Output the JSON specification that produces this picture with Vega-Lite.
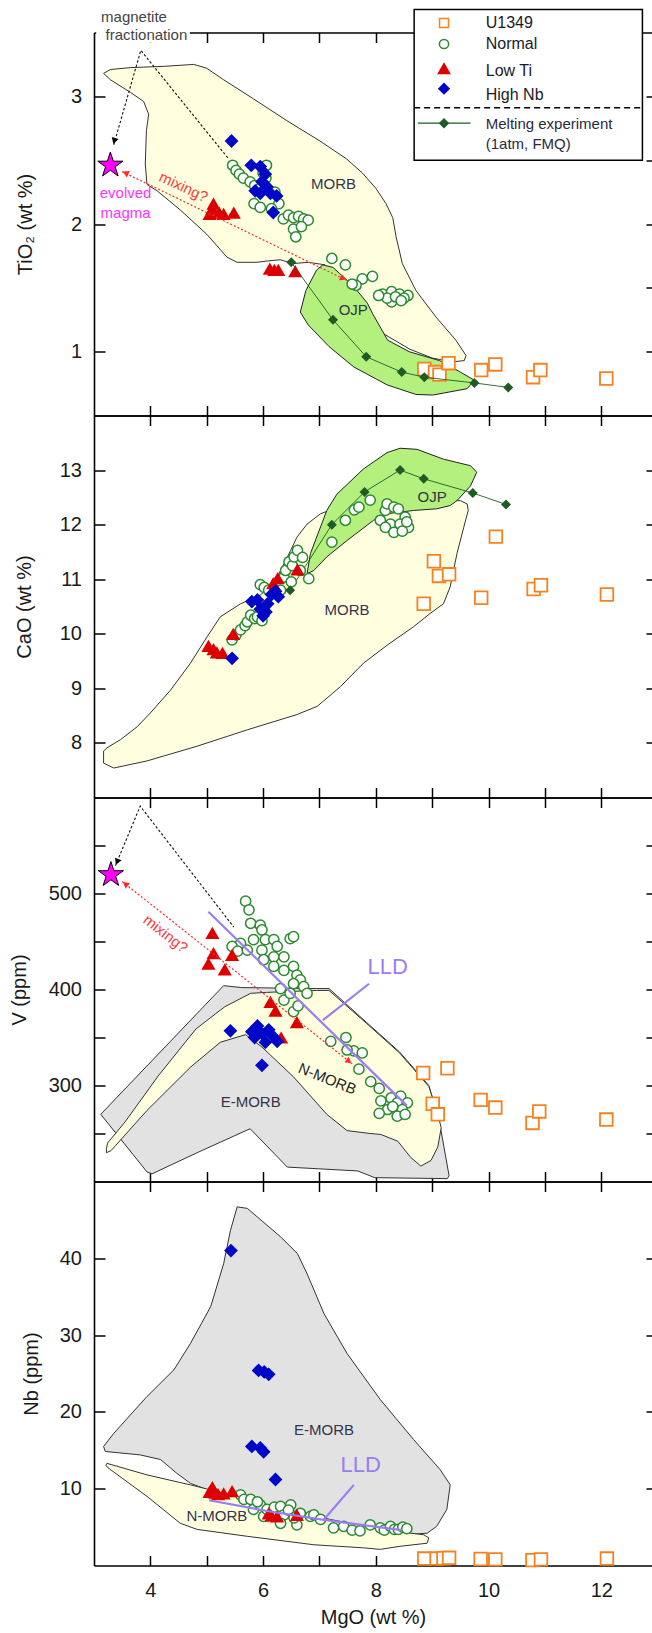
{
"$schema": "https://vega.github.io/schema/vega-lite/v6.json",
"padding": {"left": 9, "top": 8.5, "right": 0, "bottom": 0},
"bounds": "flush",
"spacing": 0,
"config": {
  "view": {"stroke": null},
  "axis": {"grid": false, "domainColor": "#000", "domainWidth": 1.6, "tickColor": "#000", "tickWidth": 1.5, "labelFont": "Liberation Sans", "labelFontSize": 20, "labelColor": "#1a1a1a", "titleFont": "Liberation Sans", "titleFontSize": 20, "titleFontWeight": "normal", "titleColor": "#1a1a1a"},
  "text": {"font": "Liberation Sans"},
  "point": {"opacity": 1}
},
"datasets": {
  "poly": [
    {"s":"m1","i":0,"x":3.17,"y":3.18},{"s":"m1","i":1,"x":3.29,"y":3.21},{"s":"m1","i":2,"x":3.65,"y":3.225},{"s":"m1","i":3,"x":4.24,"y":3.235},{"s":"m1","i":4,"x":4.77,"y":3.25},{"s":"m1","i":5,"x":5.0,"y":3.22},{"s":"m1","i":6,"x":5.3,"y":3.13},{"s":"m1","i":7,"x":5.83,"y":2.98},{"s":"m1","i":8,"x":6.42,"y":2.81},{"s":"m1","i":9,"x":7.01,"y":2.65},{"s":"m1","i":10,"x":7.48,"y":2.51},{"s":"m1","i":11,"x":7.76,"y":2.4},{"s":"m1","i":12,"x":8.0,"y":2.28},{"s":"m1","i":13,"x":8.18,"y":2.16},{"s":"m1","i":14,"x":8.3,"y":2.05},{"s":"m1","i":15,"x":8.36,"y":1.9},{"s":"m1","i":16,"x":8.47,"y":1.69},{"s":"m1","i":17,"x":8.71,"y":1.48},{"s":"m1","i":18,"x":9.07,"y":1.27},{"s":"m1","i":19,"x":9.42,"y":1.09},{"s":"m1","i":20,"x":9.6,"y":0.97},{"s":"m1","i":21,"x":9.57,"y":0.93},{"s":"m1","i":22,"x":9.36,"y":0.92},{"s":"m1","i":23,"x":9.0,"y":0.95},{"s":"m1","i":24,"x":8.6,"y":1.02},{"s":"m1","i":25,"x":8.1,"y":1.15},{"s":"m1","i":26,"x":7.6,"y":1.42},{"s":"m1","i":27,"x":7.1,"y":1.68},{"s":"m1","i":28,"x":6.8,"y":1.7},{"s":"m1","i":29,"x":6.54,"y":1.69},{"s":"m1","i":30,"x":6.3,"y":1.72},{"s":"m1","i":31,"x":6.07,"y":1.71},{"s":"m1","i":32,"x":5.89,"y":1.7},{"s":"m1","i":33,"x":5.54,"y":1.7},{"s":"m1","i":34,"x":5.36,"y":1.74},{"s":"m1","i":35,"x":5.0,"y":1.92},{"s":"m1","i":36,"x":4.53,"y":2.11},{"s":"m1","i":37,"x":4.12,"y":2.26},{"s":"m1","i":38,"x":3.94,"y":2.31},{"s":"m1","i":39,"x":3.91,"y":2.47},{"s":"m1","i":40,"x":3.93,"y":2.73},{"s":"m1","i":41,"x":3.97,"y":2.86},{"s":"m1","i":42,"x":3.88,"y":2.96},{"s":"m1","i":43,"x":3.65,"y":3.03},{"s":"m1","i":44,"x":3.29,"y":3.13},{"s":"m1","i":45,"x":3.17,"y":3.18},
    {"s":"o1","i":0,"x":7.06,"y":1.68},{"s":"o1","i":1,"x":7.24,"y":1.66},{"s":"o1","i":2,"x":7.61,"y":1.51},{"s":"o1","i":3,"x":7.85,"y":1.38},{"s":"o1","i":4,"x":7.94,"y":1.3},{"s":"o1","i":5,"x":8.21,"y":1.09},{"s":"o1","i":6,"x":8.59,"y":1.0},{"s":"o1","i":7,"x":9.13,"y":0.93},{"s":"o1","i":8,"x":9.5,"y":0.84},{"s":"o1","i":9,"x":9.75,"y":0.776},{"s":"o1","i":10,"x":9.62,"y":0.71},{"s":"o1","i":11,"x":9.01,"y":0.66},{"s":"o1","i":12,"x":8.71,"y":0.665},{"s":"o1","i":13,"x":8.2,"y":0.74},{"s":"o1","i":14,"x":7.61,"y":0.88},{"s":"o1","i":15,"x":7.17,"y":1.04},{"s":"o1","i":16,"x":6.8,"y":1.21},{"s":"o1","i":17,"x":6.66,"y":1.31},{"s":"o1","i":18,"x":6.76,"y":1.48},{"s":"o1","i":19,"x":6.95,"y":1.64},{"s":"o1","i":20,"x":7.06,"y":1.68},
    {"s":"m2","i":0,"x":3.17,"y":7.85},{"s":"m2","i":1,"x":3.23,"y":7.91},{"s":"m2","i":2,"x":3.47,"y":8.06},{"s":"m2","i":3,"x":3.77,"y":8.3},{"s":"m2","i":4,"x":4.0,"y":8.55},{"s":"m2","i":5,"x":4.36,"y":8.97},{"s":"m2","i":6,"x":4.71,"y":9.46},{"s":"m2","i":7,"x":5.01,"y":9.95},{"s":"m2","i":8,"x":5.24,"y":10.31},{"s":"m2","i":9,"x":5.6,"y":10.55},{"s":"m2","i":10,"x":5.95,"y":10.71},{"s":"m2","i":11,"x":6.19,"y":10.92},{"s":"m2","i":12,"x":6.37,"y":11.28},{"s":"m2","i":13,"x":6.49,"y":11.53},{"s":"m2","i":14,"x":6.6,"y":11.77},{"s":"m2","i":15,"x":6.78,"y":12.01},{"s":"m2","i":16,"x":7.02,"y":12.2},{"s":"m2","i":17,"x":7.4,"y":12.35},{"s":"m2","i":18,"x":8.0,"y":12.45},{"s":"m2","i":19,"x":8.8,"y":12.45},{"s":"m2","i":20,"x":9.5,"y":12.44},{"s":"m2","i":21,"x":9.62,"y":12.38},{"s":"m2","i":22,"x":9.64,"y":12.26},{"s":"m2","i":23,"x":9.56,"y":11.95},{"s":"m2","i":24,"x":9.44,"y":11.47},{"s":"m2","i":25,"x":9.32,"y":10.86},{"s":"m2","i":26,"x":9.2,"y":10.55},{"s":"m2","i":27,"x":8.96,"y":10.37},{"s":"m2","i":28,"x":8.67,"y":10.13},{"s":"m2","i":29,"x":8.2,"y":9.79},{"s":"m2","i":30,"x":7.78,"y":9.46},{"s":"m2","i":31,"x":7.37,"y":9.03},{"s":"m2","i":32,"x":6.96,"y":8.67},{"s":"m2","i":33,"x":6.6,"y":8.52},{"s":"m2","i":34,"x":5.72,"y":8.24},{"s":"m2","i":35,"x":4.83,"y":7.94},{"s":"m2","i":36,"x":3.94,"y":7.67},{"s":"m2","i":37,"x":3.35,"y":7.54},{"s":"m2","i":38,"x":3.17,"y":7.63},{"s":"m2","i":39,"x":3.17,"y":7.85},
    {"s":"o2","i":0,"x":6.78,"y":11.1},{"s":"o2","i":1,"x":6.84,"y":11.47},{"s":"o2","i":2,"x":7.13,"y":12.26},{"s":"o2","i":3,"x":7.31,"y":12.56},{"s":"o2","i":4,"x":7.78,"y":13.02},{"s":"o2","i":5,"x":8.2,"y":13.32},{"s":"o2","i":6,"x":8.43,"y":13.4},{"s":"o2","i":7,"x":8.73,"y":13.38},{"s":"o2","i":8,"x":9.2,"y":13.2},{"s":"o2","i":9,"x":9.68,"y":13.08},{"s":"o2","i":10,"x":9.79,"y":12.96},{"s":"o2","i":11,"x":9.68,"y":12.71},{"s":"o2","i":12,"x":9.44,"y":12.44},{"s":"o2","i":13,"x":9.32,"y":12.35},{"s":"o2","i":14,"x":9.08,"y":12.29},{"s":"o2","i":15,"x":8.67,"y":12.26},{"s":"o2","i":16,"x":8.2,"y":12.2},{"s":"o2","i":17,"x":7.96,"y":12.08},{"s":"o2","i":18,"x":7.49,"y":11.71},{"s":"o2","i":19,"x":7.13,"y":11.41},{"s":"o2","i":20,"x":6.9,"y":11.16},{"s":"o2","i":21,"x":6.78,"y":11.1},
    {"s":"g3","i":0,"x":3.12,"y":270},{"s":"g3","i":1,"x":5.3,"y":404},{"s":"g3","i":2,"x":5.62,"y":402},{"s":"g3","i":3,"x":6.95,"y":401},{"s":"g3","i":4,"x":7.17,"y":401},{"s":"g3","i":5,"x":7.83,"y":366},{"s":"g3","i":6,"x":8.42,"y":335},{"s":"g3","i":7,"x":8.94,"y":300},{"s":"g3","i":8,"x":9.12,"y":265},{"s":"g3","i":9,"x":9.3,"y":206},{"s":"g3","i":10,"x":9.27,"y":203},{"s":"g3","i":11,"x":7.98,"y":204},{"s":"g3","i":12,"x":7.68,"y":211},{"s":"g3","i":13,"x":6.43,"y":215},{"s":"g3","i":14,"x":5.77,"y":255},{"s":"g3","i":15,"x":4.83,"y":230},{"s":"g3","i":16,"x":4.03,"y":208},{"s":"g3","i":17,"x":3.94,"y":210},{"s":"g3","i":18,"x":3.12,"y":270},
    {"s":"y3","i":0,"x":3.22,"y":234},{"s":"y3","i":1,"x":3.24,"y":240},{"s":"y3","i":2,"x":3.55,"y":262},{"s":"y3","i":3,"x":4.14,"y":310},{"s":"y3","i":4,"x":4.81,"y":359},{"s":"y3","i":5,"x":5.32,"y":382},{"s":"y3","i":6,"x":5.78,"y":396},{"s":"y3","i":7,"x":6.06,"y":397},{"s":"y3","i":8,"x":6.95,"y":399},{"s":"y3","i":9,"x":7.17,"y":399},{"s":"y3","i":10,"x":7.83,"y":365},{"s":"y3","i":11,"x":8.42,"y":334},{"s":"y3","i":12,"x":8.94,"y":299},{"s":"y3","i":13,"x":9.1,"y":270},{"s":"y3","i":14,"x":9.16,"y":256},{"s":"y3","i":15,"x":9.1,"y":236},{"s":"y3","i":16,"x":8.98,"y":222},{"s":"y3","i":17,"x":8.8,"y":216},{"s":"y3","i":18,"x":8.62,"y":225},{"s":"y3","i":19,"x":8.39,"y":242},{"s":"y3","i":20,"x":8.09,"y":249},{"s":"y3","i":21,"x":7.9,"y":250},{"s":"y3","i":22,"x":7.49,"y":253},{"s":"y3","i":23,"x":7.13,"y":270},{"s":"y3","i":24,"x":6.54,"y":309},{"s":"y3","i":25,"x":5.98,"y":340},{"s":"y3","i":26,"x":5.69,"y":353},{"s":"y3","i":27,"x":5.24,"y":345},{"s":"y3","i":28,"x":4.71,"y":319},{"s":"y3","i":29,"x":3.94,"y":274},{"s":"y3","i":30,"x":3.3,"y":232},{"s":"y3","i":31,"x":3.22,"y":230},{"s":"y3","i":32,"x":3.22,"y":234},
    {"s":"g4","i":0,"x":5.54,"y":46.7},{"s":"g4","i":1,"x":5.72,"y":46.5},{"s":"g4","i":2,"x":6.31,"y":42.8},{"s":"g4","i":3,"x":6.61,"y":40.6},{"s":"g4","i":4,"x":6.78,"y":38.0},{"s":"g4","i":5,"x":7.08,"y":32.8},{"s":"g4","i":6,"x":7.49,"y":27.6},{"s":"g4","i":7,"x":8.08,"y":21.6},{"s":"g4","i":8,"x":8.67,"y":16.4},{"s":"g4","i":9,"x":9.14,"y":12.5},{"s":"g4","i":10,"x":9.32,"y":10.5},{"s":"g4","i":11,"x":9.26,"y":7.3},{"s":"g4","i":12,"x":9.08,"y":5.1},{"s":"g4","i":13,"x":8.91,"y":4.2},{"s":"g4","i":14,"x":8.5,"y":4.0},{"s":"g4","i":15,"x":7.5,"y":5.0},{"s":"g4","i":16,"x":6.5,"y":6.5},{"s":"g4","i":17,"x":5.5,"y":8.5},{"s":"g4","i":18,"x":4.71,"y":10.7},{"s":"g4","i":19,"x":4.47,"y":12.0},{"s":"g4","i":20,"x":4.18,"y":13.8},{"s":"g4","i":21,"x":3.82,"y":14.4},{"s":"g4","i":22,"x":3.2,"y":14.85},{"s":"g4","i":23,"x":3.17,"y":15.5},{"s":"g4","i":24,"x":3.35,"y":17.2},{"s":"g4","i":25,"x":3.94,"y":22.0},{"s":"g4","i":26,"x":4.42,"y":25.5},{"s":"g4","i":27,"x":4.71,"y":28.9},{"s":"g4","i":28,"x":5.07,"y":33.7},{"s":"g4","i":29,"x":5.3,"y":39.3},{"s":"g4","i":30,"x":5.42,"y":43.6},{"s":"g4","i":31,"x":5.54,"y":46.7},
    {"s":"y4","i":0,"x":3.23,"y":13.3},{"s":"y4","i":1,"x":3.94,"y":11.8},{"s":"y4","i":2,"x":4.71,"y":10.5},{"s":"y4","i":3,"x":5.42,"y":9.2},{"s":"y4","i":4,"x":6.31,"y":7.5},{"s":"y4","i":5,"x":7.19,"y":6.0},{"s":"y4","i":6,"x":8.08,"y":4.7},{"s":"y4","i":7,"x":8.85,"y":4.0},{"s":"y4","i":8,"x":8.94,"y":3.6},{"s":"y4","i":9,"x":8.91,"y":2.9},{"s":"y4","i":10,"x":8.43,"y":2.5},{"s":"y4","i":11,"x":8.08,"y":2.1},{"s":"y4","i":12,"x":7.78,"y":2.3},{"s":"y4","i":13,"x":6.9,"y":2.7},{"s":"y4","i":14,"x":5.72,"y":3.8},{"s":"y4","i":15,"x":4.83,"y":4.7},{"s":"y4","i":16,"x":4.53,"y":5.5},{"s":"y4","i":17,"x":3.94,"y":9.0},{"s":"y4","i":18,"x":3.29,"y":12.5},{"s":"y4","i":19,"x":3.21,"y":13.0},{"s":"y4","i":20,"x":3.23,"y":13.3}
  ],
  "melt": [
    {"p":1,"x":6.5,"y":1.7},{"p":1,"x":7.24,"y":1.25},{"p":1,"x":7.83,"y":0.96},{"p":1,"x":8.46,"y":0.84},{"p":1,"x":8.86,"y":0.8},{"p":1,"x":9.75,"y":0.755},{"p":1,"x":10.35,"y":0.72},
    {"p":2,"x":6.48,"y":10.8},{"p":2,"x":7.22,"y":12.0},{"p":2,"x":7.8,"y":12.6},{"p":2,"x":8.43,"y":13.0},{"p":2,"x":8.85,"y":12.84},{"p":2,"x":9.72,"y":12.58},{"p":2,"x":10.31,"y":12.37}
  ],
  "lines": [
    {"s":"d1","i":0,"x":3.35,"y":2.62},{"s":"d1","i":1,"x":3.83,"y":3.36},{"s":"d1","i":2,"x":5.39,"y":2.51},
    {"s":"r1","i":0,"x":3.5,"y":2.41},{"s":"r1","i":1,"x":7.48,"y":1.56},
    {"s":"d3","i":0,"x":3.38,"y":529},{"s":"d3","i":1,"x":3.82,"y":591},{"s":"d3","i":2,"x":5.48,"y":465},
    {"s":"r3","i":0,"x":3.5,"y":512.5},{"s":"r3","i":1,"x":7.58,"y":322.6},
    {"s":"l3","i":0,"x":5.03,"y":481},{"s":"l3","i":1,"x":8.55,"y":279},
    {"s":"k3","i":0,"x":7.06,"y":368},{"s":"k3","i":1,"x":7.88,"y":406},
    {"s":"l4","i":0,"x":5.04,"y":8.5},{"s":"l4","i":1,"x":6.07,"y":7.1},{"s":"l4","i":2,"x":7.02,"y":6.0},{"s":"l4","i":3,"x":8.46,"y":4.6},
    {"s":"k4","i":0,"x":7.08,"y":6.0},{"s":"k4","i":1,"x":7.61,"y":10.5}
  ],
  "pts": [
    {"p":1,"g":"U","x":8.86,"y":0.864},{"p":1,"g":"U","x":9.05,"y":0.84},{"p":1,"g":"U","x":9.13,"y":0.82},{"p":1,"g":"U","x":9.29,"y":0.91},{"p":1,"g":"U","x":9.87,"y":0.856},{"p":1,"g":"U","x":10.12,"y":0.9},{"p":1,"g":"U","x":10.79,"y":0.8},{"p":1,"g":"U","x":10.92,"y":0.856},{"p":1,"g":"U","x":12.09,"y":0.79},
    {"p":1,"g":"N","x":5.46,"y":2.46},{"p":1,"g":"N","x":5.52,"y":2.42},{"p":1,"g":"N","x":5.58,"y":2.39},{"p":1,"g":"N","x":5.65,"y":2.36},{"p":1,"g":"N","x":5.77,"y":2.33},{"p":1,"g":"N","x":5.85,"y":2.3},{"p":1,"g":"N","x":6.06,"y":2.46},{"p":1,"g":"N","x":6.0,"y":2.4},{"p":1,"g":"N","x":6.05,"y":2.36},{"p":1,"g":"N","x":5.95,"y":2.28},{"p":1,"g":"N","x":5.84,"y":2.16},{"p":1,"g":"N","x":5.95,"y":2.13},{"p":1,"g":"N","x":6.21,"y":2.25},{"p":1,"g":"N","x":6.28,"y":2.16},{"p":1,"g":"N","x":6.15,"y":2.12},{"p":1,"g":"N","x":6.36,"y":2.04},{"p":1,"g":"N","x":6.45,"y":2.07},{"p":1,"g":"N","x":6.54,"y":2.05},{"p":1,"g":"N","x":6.63,"y":2.06},{"p":1,"g":"N","x":6.72,"y":2.04},{"p":1,"g":"N","x":6.8,"y":2.03},{"p":1,"g":"N","x":6.54,"y":1.96},{"p":1,"g":"N","x":6.58,"y":1.9},{"p":1,"g":"N","x":6.68,"y":1.98},{"p":1,"g":"N","x":7.22,"y":1.73},{"p":1,"g":"N","x":7.46,"y":1.68},{"p":1,"g":"N","x":7.94,"y":1.59},{"p":1,"g":"N","x":7.76,"y":1.57},{"p":1,"g":"N","x":7.65,"y":1.52},{"p":1,"g":"N","x":7.58,"y":1.53},{"p":1,"g":"N","x":8.12,"y":1.45},{"p":1,"g":"N","x":8.28,"y":1.47},{"p":1,"g":"N","x":8.42,"y":1.45},{"p":1,"g":"N","x":8.57,"y":1.44},{"p":1,"g":"N","x":8.28,"y":1.39},{"p":1,"g":"N","x":8.2,"y":1.42},{"p":1,"g":"N","x":8.35,"y":1.43},{"p":1,"g":"N","x":8.5,"y":1.42},{"p":1,"g":"N","x":8.05,"y":1.44},{"p":1,"g":"N","x":8.45,"y":1.4},
    {"p":1,"g":"L","x":5.12,"y":2.16},{"p":1,"g":"L","x":5.05,"y":2.08},{"p":1,"g":"L","x":5.1,"y":2.12},{"p":1,"g":"L","x":5.22,"y":2.09},{"p":1,"g":"L","x":5.3,"y":2.08},{"p":1,"g":"L","x":5.48,"y":2.09},{"p":1,"g":"L","x":6.12,"y":1.65},{"p":1,"g":"L","x":6.2,"y":1.64},{"p":1,"g":"L","x":6.27,"y":1.64},{"p":1,"g":"L","x":6.57,"y":1.63},
    {"p":1,"g":"H","x":5.44,"y":2.65},{"p":1,"g":"H","x":5.79,"y":2.46},{"p":1,"g":"H","x":5.95,"y":2.45},{"p":1,"g":"H","x":6.04,"y":2.39},{"p":1,"g":"H","x":5.98,"y":2.33},{"p":1,"g":"H","x":5.86,"y":2.26},{"p":1,"g":"H","x":5.95,"y":2.24},{"p":1,"g":"H","x":6.07,"y":2.29},{"p":1,"g":"H","x":6.13,"y":2.24},{"p":1,"g":"H","x":6.24,"y":2.22},{"p":1,"g":"H","x":6.18,"y":2.09},
    {"p":2,"g":"U","x":9.03,"y":11.33},{"p":2,"g":"U","x":9.12,"y":11.06},{"p":2,"g":"U","x":9.3,"y":11.09},{"p":2,"g":"U","x":8.85,"y":10.55},{"p":2,"g":"U","x":9.87,"y":10.66},{"p":2,"g":"U","x":10.13,"y":11.78},{"p":2,"g":"U","x":10.8,"y":10.82},{"p":2,"g":"U","x":10.93,"y":10.89},{"p":2,"g":"U","x":12.1,"y":10.72},
    {"p":2,"g":"N","x":5.45,"y":9.89},{"p":2,"g":"N","x":5.52,"y":9.98},{"p":2,"g":"N","x":5.6,"y":10.07},{"p":2,"g":"N","x":5.68,"y":10.15},{"p":2,"g":"N","x":5.72,"y":10.22},{"p":2,"g":"N","x":5.78,"y":10.34},{"p":2,"g":"N","x":5.85,"y":10.28},{"p":2,"g":"N","x":5.9,"y":10.31},{"p":2,"g":"N","x":5.98,"y":10.24},{"p":2,"g":"N","x":5.95,"y":10.9},{"p":2,"g":"N","x":6.02,"y":10.85},{"p":2,"g":"N","x":6.1,"y":10.8},{"p":2,"g":"N","x":6.31,"y":10.8},{"p":2,"g":"N","x":6.37,"y":11.04},{"p":2,"g":"N","x":6.4,"y":11.16},{"p":2,"g":"N","x":6.46,"y":11.32},{"p":2,"g":"N","x":6.52,"y":11.25},{"p":2,"g":"N","x":6.55,"y":11.41},{"p":2,"g":"N","x":6.61,"y":11.53},{"p":2,"g":"N","x":6.7,"y":11.4},{"p":2,"g":"N","x":6.66,"y":11.16},{"p":2,"g":"N","x":6.81,"y":11.01},{"p":2,"g":"N","x":6.5,"y":10.95},{"p":2,"g":"N","x":7.22,"y":11.68},{"p":2,"g":"N","x":7.46,"y":12.08},{"p":2,"g":"N","x":7.62,"y":12.27},{"p":2,"g":"N","x":7.7,"y":12.32},{"p":2,"g":"N","x":7.9,"y":12.45},{"p":2,"g":"N","x":8.08,"y":12.08},{"p":2,"g":"N","x":8.17,"y":12.26},{"p":2,"g":"N","x":8.2,"y":12.38},{"p":2,"g":"N","x":8.32,"y":12.32},{"p":2,"g":"N","x":8.4,"y":12.29},{"p":2,"g":"N","x":8.52,"y":12.14},{"p":2,"g":"N","x":8.26,"y":12.01},{"p":2,"g":"N","x":8.43,"y":12.01},{"p":2,"g":"N","x":8.58,"y":11.95},{"p":2,"g":"N","x":8.17,"y":11.95},{"p":2,"g":"N","x":8.32,"y":11.86},{"p":2,"g":"N","x":8.47,"y":11.88},{"p":2,"g":"N","x":8.55,"y":12.05},
    {"p":2,"g":"L","x":5.03,"y":9.78},{"p":2,"g":"L","x":5.12,"y":9.72},{"p":2,"g":"L","x":5.18,"y":9.66},{"p":2,"g":"L","x":5.28,"y":9.65},{"p":2,"g":"L","x":5.47,"y":10.0},{"p":2,"g":"L","x":6.18,"y":10.93},{"p":2,"g":"L","x":6.26,"y":11.02},{"p":2,"g":"L","x":6.61,"y":11.18},{"p":2,"g":"L","x":6.2,"y":10.85},
    {"p":2,"g":"H","x":5.45,"y":9.55},{"p":2,"g":"H","x":5.8,"y":10.59},{"p":2,"g":"H","x":5.9,"y":10.62},{"p":2,"g":"H","x":5.95,"y":10.45},{"p":2,"g":"H","x":6.0,"y":10.33},{"p":2,"g":"H","x":6.08,"y":10.55},{"p":2,"g":"H","x":6.15,"y":10.72},{"p":2,"g":"H","x":6.22,"y":10.78},{"p":2,"g":"H","x":6.27,"y":10.68},{"p":2,"g":"H","x":6.05,"y":10.4},
    {"p":3,"g":"U","x":8.84,"y":313},{"p":3,"g":"U","x":9.27,"y":318},{"p":3,"g":"U","x":9.01,"y":281},{"p":3,"g":"U","x":9.1,"y":270},{"p":3,"g":"U","x":9.86,"y":285},{"p":3,"g":"U","x":10.12,"y":277},{"p":3,"g":"U","x":10.78,"y":261},{"p":3,"g":"U","x":10.9,"y":273},{"p":3,"g":"U","x":12.09,"y":264.5},
    {"p":3,"g":"N","x":5.69,"y":492},{"p":3,"g":"N","x":5.75,"y":483},{"p":3,"g":"N","x":5.78,"y":469},{"p":3,"g":"N","x":5.95,"y":467},{"p":3,"g":"N","x":5.98,"y":462},{"p":3,"g":"N","x":6.04,"y":452},{"p":3,"g":"N","x":5.83,"y":452},{"p":3,"g":"N","x":5.6,"y":448},{"p":3,"g":"N","x":5.45,"y":445},{"p":3,"g":"N","x":5.55,"y":440},{"p":3,"g":"N","x":5.72,"y":441},{"p":3,"g":"N","x":6.19,"y":452},{"p":3,"g":"N","x":6.48,"y":453},{"p":3,"g":"N","x":6.54,"y":455},{"p":3,"g":"N","x":6.25,"y":445},{"p":3,"g":"N","x":5.98,"y":441},{"p":3,"g":"N","x":6.19,"y":434},{"p":3,"g":"N","x":6.37,"y":434},{"p":3,"g":"N","x":6.01,"y":431},{"p":3,"g":"N","x":6.19,"y":424},{"p":3,"g":"N","x":6.37,"y":420},{"p":3,"g":"N","x":6.54,"y":424},{"p":3,"g":"N","x":6.6,"y":415},{"p":3,"g":"N","x":6.66,"y":410},{"p":3,"g":"N","x":6.72,"y":403},{"p":3,"g":"N","x":6.54,"y":406},{"p":3,"g":"N","x":6.31,"y":401},{"p":3,"g":"N","x":6.37,"y":389},{"p":3,"g":"N","x":6.48,"y":396},{"p":3,"g":"N","x":6.78,"y":396},{"p":3,"g":"N","x":6.54,"y":377},{"p":3,"g":"N","x":6.62,"y":383},{"p":3,"g":"N","x":7.2,"y":346},{"p":3,"g":"N","x":7.47,"y":350},{"p":3,"g":"N","x":7.61,"y":336},{"p":3,"g":"N","x":7.76,"y":334},{"p":3,"g":"N","x":7.49,"y":337},{"p":3,"g":"N","x":7.7,"y":317},{"p":3,"g":"N","x":7.91,"y":304},{"p":3,"g":"N","x":8.06,"y":297},{"p":3,"g":"N","x":8.27,"y":287},{"p":3,"g":"N","x":8.44,"y":289},{"p":3,"g":"N","x":8.09,"y":284},{"p":3,"g":"N","x":8.38,"y":282},{"p":3,"g":"N","x":8.56,"y":282},{"p":3,"g":"N","x":8.21,"y":275},{"p":3,"g":"N","x":8.47,"y":275},{"p":3,"g":"N","x":8.06,"y":271},{"p":3,"g":"N","x":8.38,"y":268},{"p":3,"g":"N","x":8.3,"y":278},{"p":3,"g":"N","x":8.52,"y":270},
    {"p":3,"g":"L","x":5.1,"y":459},{"p":3,"g":"L","x":5.12,"y":438},{"p":3,"g":"L","x":5.03,"y":427},{"p":3,"g":"L","x":5.45,"y":436},{"p":3,"g":"L","x":5.32,"y":421},{"p":3,"g":"L","x":6.13,"y":387},{"p":3,"g":"L","x":6.22,"y":378},{"p":3,"g":"L","x":6.6,"y":366},{"p":3,"g":"L","x":6.32,"y":350},
    {"p":3,"g":"H","x":5.42,"y":357},{"p":3,"g":"H","x":5.8,"y":356},{"p":3,"g":"H","x":5.9,"y":362},{"p":3,"g":"H","x":5.98,"y":354},{"p":3,"g":"H","x":6.04,"y":345},{"p":3,"g":"H","x":6.16,"y":352},{"p":3,"g":"H","x":6.25,"y":346},{"p":3,"g":"H","x":6.1,"y":358},{"p":3,"g":"H","x":5.98,"y":321},{"p":3,"g":"H","x":5.85,"y":350},
    {"p":4,"g":"U","x":8.86,"y":0.9},{"p":4,"g":"U","x":9.08,"y":0.9},{"p":4,"g":"U","x":9.2,"y":0.95},{"p":4,"g":"U","x":9.3,"y":1.0},{"p":4,"g":"U","x":9.86,"y":0.85},{"p":4,"g":"U","x":10.12,"y":0.8},{"p":4,"g":"U","x":10.78,"y":0.7},{"p":4,"g":"U","x":10.93,"y":0.8},{"p":4,"g":"U","x":12.1,"y":0.9},
    {"p":4,"g":"N","x":5.6,"y":9.2},{"p":4,"g":"N","x":5.66,"y":8.6},{"p":4,"g":"N","x":5.78,"y":8.6},{"p":4,"g":"N","x":5.83,"y":7.3},{"p":4,"g":"N","x":5.95,"y":7.9},{"p":4,"g":"N","x":6.01,"y":6.4},{"p":4,"g":"N","x":6.07,"y":7.3},{"p":4,"g":"N","x":6.2,"y":7.6},{"p":4,"g":"N","x":6.31,"y":7.7},{"p":4,"g":"N","x":6.37,"y":6.6},{"p":4,"g":"N","x":6.49,"y":7.9},{"p":4,"g":"N","x":6.31,"y":5.5},{"p":4,"g":"N","x":6.6,"y":5.3},{"p":4,"g":"N","x":6.66,"y":6.8},{"p":4,"g":"N","x":6.84,"y":6.4},{"p":4,"g":"N","x":6.9,"y":6.6},{"p":4,"g":"N","x":7.02,"y":6.0},{"p":4,"g":"N","x":7.25,"y":4.9},{"p":4,"g":"N","x":7.43,"y":5.1},{"p":4,"g":"N","x":7.58,"y":4.6},{"p":4,"g":"N","x":7.72,"y":4.5},{"p":4,"g":"N","x":7.9,"y":5.3},{"p":4,"g":"N","x":8.08,"y":4.9},{"p":4,"g":"N","x":8.15,"y":4.6},{"p":4,"g":"N","x":8.26,"y":5.1},{"p":4,"g":"N","x":8.33,"y":4.7},{"p":4,"g":"N","x":8.4,"y":4.7},{"p":4,"g":"N","x":8.48,"y":5.0},{"p":4,"g":"N","x":8.55,"y":4.8},{"p":4,"g":"N","x":5.9,"y":8.3},{"p":4,"g":"N","x":6.45,"y":7.2},{"p":4,"g":"N","x":6.55,"y":6.2},
    {"p":4,"g":"L","x":5.1,"y":10.2},{"p":4,"g":"L","x":5.05,"y":9.6},{"p":4,"g":"L","x":5.15,"y":9.5},{"p":4,"g":"L","x":5.3,"y":9.4},{"p":4,"g":"L","x":5.45,"y":9.7},{"p":4,"g":"L","x":6.1,"y":6.8},{"p":4,"g":"L","x":6.15,"y":6.5},{"p":4,"g":"L","x":6.25,"y":6.4},{"p":4,"g":"L","x":6.6,"y":6.6},{"p":4,"g":"L","x":5.2,"y":9.3},
    {"p":4,"g":"H","x":5.43,"y":41.0},{"p":4,"g":"H","x":5.92,"y":25.4},{"p":4,"g":"H","x":6.02,"y":25.2},{"p":4,"g":"H","x":6.1,"y":24.9},{"p":4,"g":"H","x":5.8,"y":15.5},{"p":4,"g":"H","x":5.95,"y":15.3},{"p":4,"g":"H","x":6.01,"y":14.8},{"p":4,"g":"H","x":6.22,"y":11.2}
  ],
  "txt": [
    {"k":"lab1","t":"MORB","x":7.25,"y":2.31},{"k":"lab1","t":"OJP","x":7.6,"y":1.33},
    {"k":"mag1","t":"evolved","x":3.56,"y":2.24},{"k":"mag1","t":"magma","x":3.56,"y":2.09},
    {"k":"mix1","t":"mixing?","x":4.59,"y":2.29},
    {"k":"frac1","t":"magnetite","x":3.71,"y":3.62},{"k":"frac1","t":"fractionation","x":3.93,"y":3.48},
    {"k":"lab2","t":"MORB","x":7.49,"y":10.43},{"k":"lab2","t":"OJP","x":9.0,"y":12.51},
    {"k":"lab3","t":"E-MORB","x":5.78,"y":283},
    {"k":"nm3","t":"N-MORB","x":7.14,"y":307},
    {"k":"mix3","t":"mixing?","x":4.27,"y":458},
    {"k":"lld3","t":"LLD","x":8.21,"y":423},
    {"k":"lab4","t":"E-MORB","x":7.08,"y":17.7},{"k":"lab4","t":"N-MORB","x":5.18,"y":6.4},
    {"k":"lld4","t":"LLD","x":7.73,"y":13.1}
  ]
},
"vconcat": [
 {
  "width": 558, "height": 383,
  "resolve": {"axis": {"x": "independent", "y": "independent"}},
  "encoding": {
    "x": {"field": "x", "type": "quantitative", "scale": {"domain": [3, 12.9], "nice": false, "zero": false}, "axis": null},
    "y": {"field": "y", "type": "quantitative", "scale": {"domain": [0.5, 3.5], "nice": false, "zero": false}, "axis": null}
  },
  "layer": [
    {"data": {"name": "poly"}, "transform": [{"filter": "datum.s=='m1'"}], "mark": {"type": "line", "fill": "#ffffe0", "stroke": "#333", "strokeWidth": 1},
     "encoding": {"order": {"field": "i", "type": "quantitative"},
       "x": {"field": "x", "type": "quantitative", "scale": {"domain": [3, 12.9], "nice": false, "zero": false}, "axis": {"orient": "bottom", "values": [4,5,6,7,8,9,10,11,12], "tickSize": -10, "labels": false, "title": null}},
       "y": {"field": "y", "type": "quantitative", "scale": {"domain": [0.5, 3.5], "nice": false, "zero": false}, "axis": {"orient": "left", "values": [1,1.5,2,2.5,3], "tickSize": -11, "format": "d", "labelExpr": "datum.value % 1 == 0 ? datum.label : ''", "labelPadding": 23.5, "title": "TiO₂ (wt %)", "titleX": -68.5, "titleBaseline": "middle"}}}},
    {"data": {"name": "poly"}, "transform": [{"filter": "datum.s=='o1'"}], "mark": {"type": "line", "fill": "#b4f07e", "stroke": "#222", "strokeWidth": 1},
     "encoding": {"order": {"field": "i", "type": "quantitative"},
       "x": {"field": "x", "type": "quantitative", "scale": {"domain": [3, 12.9], "nice": false, "zero": false}, "axis": {"orient": "top", "values": [4,5,6,7,8,9,10,11,12], "tickSize": -10, "labels": false, "title": null}},
       "y": {"field": "y", "type": "quantitative", "scale": {"domain": [0.5, 3.5], "nice": false, "zero": false}, "axis": {"orient": "right", "values": [1,1.5,2,2.5,3], "tickSize": -6, "labels": false, "domain": false, "title": null}}}},
    {"data": {"name": "pts"}, "transform": [{"filter": "datum.p==1 && datum.g=='U'"}], "mark": {"type": "point", "shape": "square", "size": 160, "filled": true, "fill": "white", "stroke": "#f5821f", "strokeWidth": 1.8}},
    {"data": {"name": "pts"}, "transform": [{"filter": "datum.p==1 && datum.g=='N'"}], "mark": {"type": "point", "shape": "circle", "size": 105, "filled": true, "fill": "white", "stroke": "#2a8a2e", "strokeWidth": 1.5}},
    {"data": {"name": "pts"}, "transform": [{"filter": "datum.p==1 && datum.g=='L'"}], "mark": {"type": "point", "shape": "triangle-up", "size": 200, "filled": true, "color": "#dd0000"}},
    {"data": {"name": "pts"}, "transform": [{"filter": "datum.p==1 && datum.g=='H'"}], "mark": {"type": "point", "shape": "diamond", "size": 190, "filled": true, "color": "#0008c8"}},
    {"data": {"name": "melt"}, "transform": [{"filter": "datum.p==1"}], "mark": {"type": "line", "stroke": "#1e5c24", "strokeWidth": 0.9}, "encoding": {"order": {"field": "x", "type": "quantitative"}}},
    {"data": {"name": "melt"}, "transform": [{"filter": "datum.p==1"}], "mark": {"type": "point", "shape": "diamond", "size": 100, "filled": true, "color": "#1e5c24"}},
    {"data": {"name": "lines"}, "transform": [{"filter": "datum.s=='d1'"}], "mark": {"type": "line", "stroke": "#111", "strokeWidth": 1.1, "strokeDash": [2.5, 2]}, "encoding": {"order": {"field": "i", "type": "quantitative"}}},
    {"data": {"name": "lines"}, "transform": [{"filter": "datum.s=='r1'"}], "mark": {"type": "line", "stroke": "#ff2a2a", "strokeWidth": 1.2, "strokeDash": [2, 2]}, "encoding": {"order": {"field": "i", "type": "quantitative"}}},
    {"data": {"values": [{"x": 3.36, "y": 2.65}]}, "mark": {"type": "point", "shape": "triangle-up", "size": 50, "filled": true, "color": "#000", "angle": 196}},
    {"data": {"values": [{"x": 3.56, "y": 2.40}]}, "mark": {"type": "point", "shape": "triangle-up", "size": 50, "filled": true, "color": "#ff2a2a", "angle": 296}},
    {"data": {"values": [{"x": 7.42, "y": 1.573}]}, "mark": {"type": "point", "shape": "triangle-up", "size": 50, "filled": true, "color": "#ff2a2a", "angle": 116}},
    {"data": {"values": [{"x": 3.29, "y": 2.46}]}, "mark": {"type": "point", "shape": "M0,-1L0.2245,-0.309L0.951,-0.309L0.363,0.118L0.588,0.809L0,0.382L-0.588,0.809L-0.363,0.118L-0.951,-0.309L-0.2245,-0.309Z", "size": 700, "filled": true, "fill": "#ff00ff", "stroke": "#000", "strokeWidth": 1}},
    {"data": {"name": "txt"}, "transform": [{"filter": "datum.k=='lab1'"}], "mark": {"type": "text", "fontSize": 15, "color": "#33334a"}, "encoding": {"text": {"field": "t", "type": "nominal"}}},
    {"data": {"name": "txt"}, "transform": [{"filter": "datum.k=='mag1'"}], "mark": {"type": "text", "fontSize": 15, "color": "#ff33ff"}, "encoding": {"text": {"field": "t", "type": "nominal"}}},
    {"data": {"name": "txt"}, "transform": [{"filter": "datum.k=='mix1'"}], "mark": {"type": "text", "fontSize": 15, "color": "#ff3a3a", "angle": 25}, "encoding": {"text": {"field": "t", "type": "nominal"}}},
    {"data": {"values": [{"x": 3.04, "x2": 4.7, "y": 3.42, "y2": 3.54}]}, "mark": {"type": "rect", "fill": "white"}, "encoding": {"x2": {"field": "x2"}, "y2": {"field": "y2"}}},
    {"data": {"name": "txt"}, "transform": [{"filter": "datum.k=='frac1'"}], "mark": {"type": "text", "fontSize": 15, "color": "#444"}, "encoding": {"text": {"field": "t", "type": "nominal"}}},
    {"data": {"values": [{"x": 8.68, "x2": 12.73, "y": 3.68, "y2": 2.5}]}, "mark": {"type": "rect", "fill": "white", "stroke": "#000", "strokeWidth": 1.5}, "encoding": {"x2": {"field": "x2"}, "y2": {"field": "y2"}}},
    {"data": {"values": [{"x": 8.68, "y": 2.91, "i": 0}, {"x": 12.73, "y": 2.91, "i": 1}]}, "mark": {"type": "line", "stroke": "#000", "strokeWidth": 1.5, "strokeDash": [6, 4]}, "encoding": {"order": {"field": "i", "type": "quantitative"}}},
    {"data": {"values": [{"x": 9.21, "y": 3.574}]}, "mark": {"type": "point", "shape": "square", "size": 80, "filled": true, "fill": "white", "stroke": "#f5821f", "strokeWidth": 1.5}},
    {"data": {"values": [{"x": 9.21, "y": 3.41}]}, "mark": {"type": "point", "shape": "circle", "size": 85, "filled": true, "fill": "white", "stroke": "#2a8a2e", "strokeWidth": 1.5}},
    {"data": {"values": [{"x": 9.21, "y": 3.22}]}, "mark": {"type": "point", "shape": "triangle-up", "size": 190, "filled": true, "color": "#dd0000"}},
    {"data": {"values": [{"x": 9.21, "y": 3.06}]}, "mark": {"type": "point", "shape": "diamond", "size": 150, "filled": true, "color": "#0008c8"}},
    {"data": {"values": [{"x": 8.745, "y": 2.79, "i": 0}, {"x": 9.68, "y": 2.79, "i": 1}]}, "mark": {"type": "line", "stroke": "#1e5c24", "strokeWidth": 1.3}, "encoding": {"order": {"field": "i", "type": "quantitative"}}},
    {"data": {"values": [{"x": 9.21, "y": 2.79}]}, "mark": {"type": "point", "shape": "diamond", "size": 110, "filled": true, "color": "#1e5c24"}},
    {"data": {"values": [{"x": 9.95, "y": 3.574, "t": "U1349"}, {"x": 9.95, "y": 3.41, "t": "Normal"}, {"x": 9.95, "y": 3.2, "t": "Low Ti"}, {"x": 9.95, "y": 3.01, "t": "High Nb"}]}, "mark": {"type": "text", "align": "left", "baseline": "middle", "fontSize": 16, "color": "#1a1a2a"}, "encoding": {"text": {"field": "t", "type": "nominal"}}},
    {"data": {"values": [{"x": 9.95, "y": 2.78, "t": "Melting experiment"}, {"x": 9.95, "y": 2.63, "t": "(1atm, FMQ)"}]}, "mark": {"type": "text", "align": "left", "baseline": "middle", "fontSize": 15, "color": "#2a2a40"}, "encoding": {"text": {"field": "t", "type": "nominal"}}}
  ]
 },
 {
  "width": 558, "height": 382,
  "resolve": {"axis": {"x": "independent", "y": "independent"}},
  "encoding": {
    "x": {"field": "x", "type": "quantitative", "scale": {"domain": [3, 12.9], "nice": false, "zero": false}, "axis": null},
    "y": {"field": "y", "type": "quantitative", "scale": {"domain": [7, 14], "nice": false, "zero": false}, "axis": null}
  },
  "layer": [
    {"data": {"name": "poly"}, "transform": [{"filter": "datum.s=='m2'"}], "mark": {"type": "line", "fill": "#ffffe0", "stroke": "#333", "strokeWidth": 1},
     "encoding": {"order": {"field": "i", "type": "quantitative"},
       "x": {"field": "x", "type": "quantitative", "scale": {"domain": [3, 12.9], "nice": false, "zero": false}, "axis": {"orient": "bottom", "values": [4,5,6,7,8,9,10,11,12], "tickSize": -10, "labels": false, "title": null}},
       "y": {"field": "y", "type": "quantitative", "scale": {"domain": [7, 14], "nice": false, "zero": false}, "axis": {"orient": "left", "values": [8,9,10,11,12,13], "tickSize": -11, "format": "d", "labelPadding": 23.5, "title": "CaO (wt %)", "titleX": -69.8, "titleBaseline": "middle"}}}},
    {"data": {"name": "poly"}, "transform": [{"filter": "datum.s=='o2'"}], "mark": {"type": "line", "fill": "#b4f07e", "stroke": "#222", "strokeWidth": 1},
     "encoding": {"order": {"field": "i", "type": "quantitative"},
       "x": {"field": "x", "type": "quantitative", "scale": {"domain": [3, 12.9], "nice": false, "zero": false}, "axis": {"orient": "top", "values": [4,5,6,7,8,9,10,11,12], "tickSize": -10, "labels": false, "title": null}},
       "y": {"field": "y", "type": "quantitative", "scale": {"domain": [7, 14], "nice": false, "zero": false}, "axis": {"orient": "right", "values": [8,9,10,11,12,13], "tickSize": -6, "labels": false, "domain": false, "title": null}}}},
    {"data": {"name": "melt"}, "transform": [{"filter": "datum.p==2"}], "mark": {"type": "line", "stroke": "#1e5c24", "strokeWidth": 0.9}, "encoding": {"order": {"field": "x", "type": "quantitative"}}},
    {"data": {"name": "pts"}, "transform": [{"filter": "datum.p==2 && datum.g=='U'"}], "mark": {"type": "point", "shape": "square", "size": 160, "filled": true, "fill": "white", "stroke": "#f5821f", "strokeWidth": 1.8}},
    {"data": {"name": "pts"}, "transform": [{"filter": "datum.p==2 && datum.g=='N'"}], "mark": {"type": "point", "shape": "circle", "size": 105, "filled": true, "fill": "white", "stroke": "#2a8a2e", "strokeWidth": 1.5}},
    {"data": {"name": "pts"}, "transform": [{"filter": "datum.p==2 && datum.g=='L'"}], "mark": {"type": "point", "shape": "triangle-up", "size": 200, "filled": true, "color": "#dd0000"}},
    {"data": {"name": "pts"}, "transform": [{"filter": "datum.p==2 && datum.g=='H'"}], "mark": {"type": "point", "shape": "diamond", "size": 190, "filled": true, "color": "#0008c8"}},
    {"data": {"name": "melt"}, "transform": [{"filter": "datum.p==2"}], "mark": {"type": "point", "shape": "diamond", "size": 100, "filled": true, "color": "#1e5c24"}},
    {"data": {"name": "txt"}, "transform": [{"filter": "datum.k=='lab2'"}], "mark": {"type": "text", "fontSize": 15, "color": "#33334a"}, "encoding": {"text": {"field": "t", "type": "nominal"}}}
  ]
 },
 {
  "width": 558, "height": 384,
  "resolve": {"axis": {"x": "independent", "y": "independent"}},
  "encoding": {
    "x": {"field": "x", "type": "quantitative", "scale": {"domain": [3, 12.9], "nice": false, "zero": false}, "axis": null},
    "y": {"field": "y", "type": "quantitative", "scale": {"domain": [200, 600], "nice": false, "zero": false}, "axis": null}
  },
  "layer": [
    {"data": {"name": "poly"}, "transform": [{"filter": "datum.s=='g3'"}], "mark": {"type": "line", "fill": "#e2e2e2", "stroke": "#333", "strokeWidth": 1},
     "encoding": {"order": {"field": "i", "type": "quantitative"},
       "x": {"field": "x", "type": "quantitative", "scale": {"domain": [3, 12.9], "nice": false, "zero": false}, "axis": {"orient": "bottom", "values": [4,5,6,7,8,9,10,11,12], "tickSize": -10, "labels": false, "title": null}},
       "y": {"field": "y", "type": "quantitative", "scale": {"domain": [200, 600], "nice": false, "zero": false}, "axis": {"orient": "left", "values": [250,300,350,400,450,500,550], "tickSize": -11, "format": "d", "labelExpr": "datum.value % 100 == 0 ? datum.label : ''", "labelPadding": 23.5, "title": "V (ppm)", "titleX": -74.8, "titleBaseline": "middle"}}}},
    {"data": {"name": "poly"}, "transform": [{"filter": "datum.s=='y3'"}], "mark": {"type": "line", "fill": "#ffffe0", "stroke": "#333", "strokeWidth": 1},
     "encoding": {"order": {"field": "i", "type": "quantitative"},
       "x": {"field": "x", "type": "quantitative", "scale": {"domain": [3, 12.9], "nice": false, "zero": false}, "axis": {"orient": "top", "values": [4,5,6,7,8,9,10,11,12], "tickSize": -10, "labels": false, "title": null}},
       "y": {"field": "y", "type": "quantitative", "scale": {"domain": [200, 600], "nice": false, "zero": false}, "axis": {"orient": "right", "values": [250,300,350,400,450,500,550], "tickSize": -6, "labels": false, "domain": false, "title": null}}}},
    {"data": {"name": "txt"}, "transform": [{"filter": "datum.k=='lab3'"}], "mark": {"type": "text", "fontSize": 15, "color": "#33334a"}, "encoding": {"text": {"field": "t", "type": "nominal"}}},
    {"data": {"name": "txt"}, "transform": [{"filter": "datum.k=='nm3'"}], "mark": {"type": "text", "fontSize": 15, "color": "#222", "angle": 22}, "encoding": {"text": {"field": "t", "type": "nominal"}}},
    {"data": {"name": "pts"}, "transform": [{"filter": "datum.p==3 && datum.g=='U'"}], "mark": {"type": "point", "shape": "square", "size": 160, "filled": true, "fill": "white", "stroke": "#f5821f", "strokeWidth": 1.8}},
    {"data": {"name": "pts"}, "transform": [{"filter": "datum.p==3 && datum.g=='N'"}], "mark": {"type": "point", "shape": "circle", "size": 105, "filled": true, "fill": "white", "stroke": "#2a8a2e", "strokeWidth": 1.5}},
    {"data": {"name": "pts"}, "transform": [{"filter": "datum.p==3 && datum.g=='L'"}], "mark": {"type": "point", "shape": "triangle-up", "size": 200, "filled": true, "color": "#dd0000"}},
    {"data": {"name": "pts"}, "transform": [{"filter": "datum.p==3 && datum.g=='H'"}], "mark": {"type": "point", "shape": "diamond", "size": 190, "filled": true, "color": "#0008c8"}},
    {"data": {"name": "lines"}, "transform": [{"filter": "datum.s=='d3'"}], "mark": {"type": "line", "stroke": "#111", "strokeWidth": 1.1, "strokeDash": [2.5, 2]}, "encoding": {"order": {"field": "i", "type": "quantitative"}}},
    {"data": {"name": "lines"}, "transform": [{"filter": "datum.s=='r3'"}], "mark": {"type": "line", "stroke": "#ff2a2a", "strokeWidth": 1.2, "strokeDash": [2, 2]}, "encoding": {"order": {"field": "i", "type": "quantitative"}}},
    {"data": {"values": [{"x": 3.41, "y": 533}]}, "mark": {"type": "point", "shape": "triangle-up", "size": 50, "filled": true, "color": "#000", "angle": 202}},
    {"data": {"values": [{"x": 3.556, "y": 509.9}]}, "mark": {"type": "point", "shape": "triangle-up", "size": 50, "filled": true, "color": "#ff2a2a", "angle": 308}},
    {"data": {"values": [{"x": 7.524, "y": 325.2}]}, "mark": {"type": "point", "shape": "triangle-up", "size": 50, "filled": true, "color": "#ff2a2a", "angle": 128}},
    {"data": {"name": "lines"}, "transform": [{"filter": "datum.s=='l3' || datum.s=='k3'"}], "mark": {"type": "line", "stroke": "#9b7cf4", "strokeWidth": 2.2}, "encoding": {"order": {"field": "i", "type": "quantitative"}, "detail": {"field": "s", "type": "nominal"}}},
    {"data": {"values": [{"x": 3.3, "y": 519.5}]}, "mark": {"type": "point", "shape": "M0,-1L0.2245,-0.309L0.951,-0.309L0.363,0.118L0.588,0.809L0,0.382L-0.588,0.809L-0.363,0.118L-0.951,-0.309L-0.2245,-0.309Z", "size": 700, "filled": true, "fill": "#ff00ff", "stroke": "#000", "strokeWidth": 1}},
    {"data": {"name": "txt"}, "transform": [{"filter": "datum.k=='mix3'"}], "mark": {"type": "text", "fontSize": 15, "color": "#ff3a3a", "angle": 38}, "encoding": {"text": {"field": "t", "type": "nominal"}}},
    {"data": {"name": "txt"}, "transform": [{"filter": "datum.k=='lld3'"}], "mark": {"type": "text", "fontSize": 22, "color": "#9b7cf4"}, "encoding": {"text": {"field": "t", "type": "nominal"}}}
  ]
 },
 {
  "width": 558, "height": 384,
  "resolve": {"axis": {"x": "independent", "y": "independent"}},
  "encoding": {
    "x": {"field": "x", "type": "quantitative", "scale": {"domain": [3, 12.9], "nice": false, "zero": false}, "axis": null},
    "y": {"field": "y", "type": "quantitative", "scale": {"domain": [0, 50], "nice": false, "zero": false}, "axis": null}
  },
  "layer": [
    {"data": {"name": "poly"}, "transform": [{"filter": "datum.s=='g4'"}], "mark": {"type": "line", "fill": "#e2e2e2", "stroke": "#333", "strokeWidth": 1},
     "encoding": {"order": {"field": "i", "type": "quantitative"},
       "x": {"field": "x", "type": "quantitative", "scale": {"domain": [3, 12.9], "nice": false, "zero": false}, "axis": {"orient": "bottom", "values": [4,5,6,7,8,9,10,11,12], "tickSize": -10, "format": "d", "labelExpr": "datum.value % 2 == 0 ? datum.label : ''", "labelPadding": 25, "title": "MgO (wt %)", "titlePadding": 7}},
       "y": {"field": "y", "type": "quantitative", "scale": {"domain": [0, 50], "nice": false, "zero": false}, "axis": {"orient": "left", "values": [10,20,30,40], "tickSize": -11, "format": "d", "labelPadding": 23.5, "title": "Nb (ppm)", "titleX": -62.5, "titleBaseline": "middle"}}}},
    {"data": {"name": "poly"}, "transform": [{"filter": "datum.s=='y4'"}], "mark": {"type": "line", "fill": "#ffffe0", "stroke": "#333", "strokeWidth": 1},
     "encoding": {"order": {"field": "i", "type": "quantitative"},
       "x": {"field": "x", "type": "quantitative", "scale": {"domain": [3, 12.9], "nice": false, "zero": false}, "axis": {"orient": "top", "values": [4,5,6,7,8,9,10,11,12], "tickSize": -10, "labels": false, "title": null}},
       "y": {"field": "y", "type": "quantitative", "scale": {"domain": [0, 50], "nice": false, "zero": false}, "axis": {"orient": "right", "values": [10,20,30,40], "tickSize": -6, "labels": false, "domain": false, "title": null}}}},
    {"data": {"name": "txt"}, "transform": [{"filter": "datum.k=='lab4'"}], "mark": {"type": "text", "fontSize": 15, "color": "#33334a"}, "encoding": {"text": {"field": "t", "type": "nominal"}}},
    {"data": {"name": "pts"}, "transform": [{"filter": "datum.p==4 && datum.g=='U'"}], "mark": {"type": "point", "shape": "square", "size": 160, "filled": true, "fill": "white", "stroke": "#f5821f", "strokeWidth": 1.8}},
    {"data": {"name": "pts"}, "transform": [{"filter": "datum.p==4 && datum.g=='N'"}], "mark": {"type": "point", "shape": "circle", "size": 105, "filled": true, "fill": "white", "stroke": "#2a8a2e", "strokeWidth": 1.5}},
    {"data": {"name": "pts"}, "transform": [{"filter": "datum.p==4 && datum.g=='L'"}], "mark": {"type": "point", "shape": "triangle-up", "size": 200, "filled": true, "color": "#dd0000"}},
    {"data": {"name": "pts"}, "transform": [{"filter": "datum.p==4 && datum.g=='H'"}], "mark": {"type": "point", "shape": "diamond", "size": 190, "filled": true, "color": "#0008c8"}},
    {"data": {"name": "lines"}, "transform": [{"filter": "datum.s=='l4' || datum.s=='k4'"}], "mark": {"type": "line", "stroke": "#9b7cf4", "strokeWidth": 2.2}, "encoding": {"order": {"field": "i", "type": "quantitative"}, "detail": {"field": "s", "type": "nominal"}}},
    {"data": {"name": "txt"}, "transform": [{"filter": "datum.k=='lld4'"}], "mark": {"type": "text", "fontSize": 22, "color": "#9b7cf4"}, "encoding": {"text": {"field": "t", "type": "nominal"}}}
  ]
 }
]
}
